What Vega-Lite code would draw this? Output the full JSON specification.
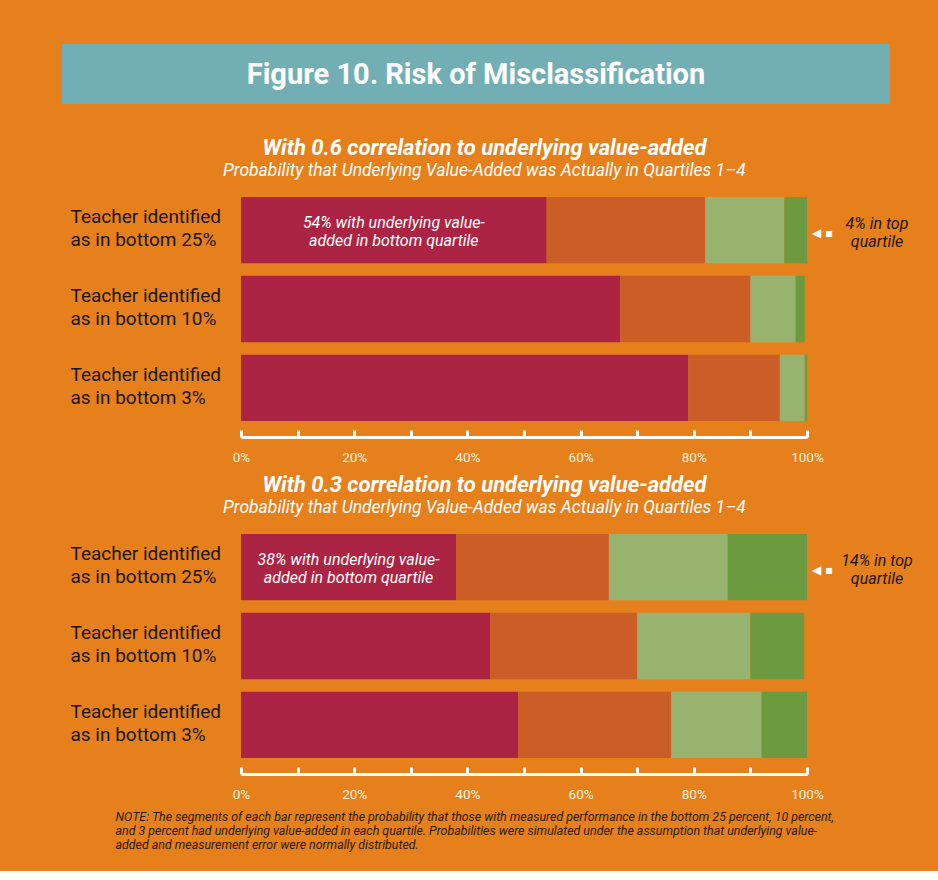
{
  "$schema": "https://vega.github.io/schema/vega-lite/v6.json",
  "background": "#E5801D",
  "padding": {"left": 62, "top": 44, "right": 33, "bottom": 20},
  "config": {"view": {"stroke": null}, "font": "Roboto"},
  "datasets": {
    "risk": [
      {"correlation": "0.6", "group": "Teacher identified as in bottom 25%", "quartile": "Quartile 1", "value": 54},
      {"correlation": "0.6", "group": "Teacher identified as in bottom 25%", "quartile": "Quartile 2", "value": 28},
      {"correlation": "0.6", "group": "Teacher identified as in bottom 25%", "quartile": "Quartile 3", "value": 14},
      {"correlation": "0.6", "group": "Teacher identified as in bottom 25%", "quartile": "Quartile 4", "value": 4},
      {"correlation": "0.6", "group": "Teacher identified as in bottom 10%", "quartile": "Quartile 1", "value": 67},
      {"correlation": "0.6", "group": "Teacher identified as in bottom 10%", "quartile": "Quartile 2", "value": 23},
      {"correlation": "0.6", "group": "Teacher identified as in bottom 10%", "quartile": "Quartile 3", "value": 8},
      {"correlation": "0.6", "group": "Teacher identified as in bottom 10%", "quartile": "Quartile 4", "value": 1.6},
      {"correlation": "0.6", "group": "Teacher identified as in bottom 3%", "quartile": "Quartile 1", "value": 79},
      {"correlation": "0.6", "group": "Teacher identified as in bottom 3%", "quartile": "Quartile 2", "value": 16.2},
      {"correlation": "0.6", "group": "Teacher identified as in bottom 3%", "quartile": "Quartile 3", "value": 4.4},
      {"correlation": "0.6", "group": "Teacher identified as in bottom 3%", "quartile": "Quartile 4", "value": 0.4},
      {"correlation": "0.3", "group": "Teacher identified as in bottom 25%", "quartile": "Quartile 1", "value": 38},
      {"correlation": "0.3", "group": "Teacher identified as in bottom 25%", "quartile": "Quartile 2", "value": 27},
      {"correlation": "0.3", "group": "Teacher identified as in bottom 25%", "quartile": "Quartile 3", "value": 21},
      {"correlation": "0.3", "group": "Teacher identified as in bottom 25%", "quartile": "Quartile 4", "value": 14},
      {"correlation": "0.3", "group": "Teacher identified as in bottom 10%", "quartile": "Quartile 1", "value": 44},
      {"correlation": "0.3", "group": "Teacher identified as in bottom 10%", "quartile": "Quartile 2", "value": 26},
      {"correlation": "0.3", "group": "Teacher identified as in bottom 10%", "quartile": "Quartile 3", "value": 20},
      {"correlation": "0.3", "group": "Teacher identified as in bottom 10%", "quartile": "Quartile 4", "value": 9.5},
      {"correlation": "0.3", "group": "Teacher identified as in bottom 3%", "quartile": "Quartile 1", "value": 49},
      {"correlation": "0.3", "group": "Teacher identified as in bottom 3%", "quartile": "Quartile 2", "value": 27},
      {"correlation": "0.3", "group": "Teacher identified as in bottom 3%", "quartile": "Quartile 3", "value": 16},
      {"correlation": "0.3", "group": "Teacher identified as in bottom 3%", "quartile": "Quartile 4", "value": 8}
    ]
  },
  "spacing": 32,
  "vconcat": [
    {
      "data": {"values": [{"title": "Figure 10. Risk of Misclassification"}]},
      "width": 828,
      "height": 60,
      "view": {"fill": "#72AFB5", "stroke": null},
      "mark": {"type": "text", "font": "Roboto", "fontSize": 29, "fontWeight": "bold", "color": "#FFFFFF", "align": "center", "baseline": "middle", "dy": 1},
      "encoding": {"text": {"field": "title"}}
    },
    {
      "spacing": 9,
      "vconcat": [
        {
          "width": 745,
          "height": 240,
          "title": {"text": "With 0.6 correlation to underlying value-added", "subtitle": "Probability that Underlying Value-Added was Actually in Quartiles 1–4", "anchor": "middle", "dx": 50, "font": "Roboto", "fontSize": 22, "fontStyle": "italic", "fontWeight": "bold", "color": "#FFFFFF", "subtitleFont": "Roboto", "subtitleFontSize": 17.5, "subtitleFontStyle": "italic", "subtitleColor": "#FFFFFF", "subtitlePadding": 2, "offset": 9},
          "data": {"name": "risk"},
          "transform": [{"filter": "datum.correlation == '0.6'"}],
          "encoding": {
            "y": {"field": "group", "type": "nominal", "sort": ["Teacher identified as in bottom 25%", "Teacher identified as in bottom 10%", "Teacher identified as in bottom 3%"], "scale": {"paddingInner": 0.16, "paddingOuter": 0.1},
              "axis": {"title": null, "domain": false, "ticks": false, "labelAlign": "left", "labelPadding": -8, "labelOffset": -13, "labelFontSize": 19, "labelColor": "#1C1410", "labelLineHeight": 23, "labelLimit": 300, "labelExpr": "['Teacher identified', replace(datum.label, 'Teacher identified ', '')]"}}
          },
          "layer": [
            {
              "mark": {"type": "bar"},
              "encoding": {
                "x": {"field": "value", "type": "quantitative", "stack": "zero", "scale": {"domain": [0, 100], "range": [179, 745]},
                  "axis": {"title": null, "values": [0, 10, 20, 30, 40, 50, 60, 70, 80, 90, 100], "labelExpr": "datum.value % 20 === 0 ? datum.value + '%' : ''", "domainColor": "#FFFFFF", "domainWidth": 3, "tickColor": "#FFFFFF", "tickWidth": 3, "tickSize": -7, "labelColor": "#FFF1DD", "labelFontSize": 13.5, "labelPadding": 20, "labelFlush": false, "offset": 8, "grid": false}},
                "color": {"field": "quartile", "type": "nominal", "scale": {"domain": ["Quartile 1", "Quartile 2", "Quartile 3", "Quartile 4"], "range": ["#AC2443", "#CB5D27", "#97B36F", "#6E9A3F"]}, "legend": null},
                "order": {"field": "quartile", "type": "ordinal", "sort": "ascending"}
              }
            },
            {
              "transform": [{"filter": "datum.quartile == 'Quartile 1' && indexof(datum.group, '25%') >= 0"}, {"calculate": "datum.value / 2", "as": "mid"}, {"calculate": "format(datum.value, 'd') + '% with underlying value-|added in bottom quartile'", "as": "label"}],
              "mark": {"type": "text", "color": "#FFFFFF", "fontStyle": "italic", "fontSize": 16, "lineHeight": 18, "lineBreak": "|", "align": "center", "baseline": "middle", "dy": -7},
              "encoding": {"x": {"field": "mid", "type": "quantitative"}, "text": {"field": "label"}}
            },
            {
              "transform": [{"filter": "datum.quartile == 'Quartile 4' && indexof(datum.group, '25%') >= 0"}, {"calculate": "format(datum.value, 'd') + '% in top|quartile'", "as": "label"}],
              "mark": {"type": "text", "color": "#1C1410", "fontStyle": "italic", "fontSize": 16, "lineHeight": 18, "lineBreak": "|", "align": "center", "baseline": "middle", "dx": 70, "dy": -6},
              "encoding": {"x": {"datum": 100, "type": "quantitative"}, "text": {"field": "label"}}
            },
            {
              "transform": [{"filter": "datum.quartile == 'Quartile 4' && indexof(datum.group, '25%') >= 0"}],
              "mark": {"type": "text", "text": "◀ ▪", "font": "DejaVu Sans", "color": "#FFFFFF", "fontSize": 12, "align": "left", "baseline": "middle", "dx": 5, "dy": 3},
              "encoding": {"x": {"datum": 100, "type": "quantitative"}}
            }
          ]
        },
        {
          "width": 745,
          "height": 240,
          "title": {"text": "With 0.3 correlation to underlying value-added", "subtitle": "Probability that Underlying Value-Added was Actually in Quartiles 1–4", "anchor": "middle", "dx": 50, "font": "Roboto", "fontSize": 22, "fontStyle": "italic", "fontWeight": "bold", "color": "#FFFFFF", "subtitleFont": "Roboto", "subtitleFontSize": 17.5, "subtitleFontStyle": "italic", "subtitleColor": "#FFFFFF", "subtitlePadding": 2, "offset": 9},
          "data": {"name": "risk"},
          "transform": [{"filter": "datum.correlation == '0.3'"}],
          "encoding": {
            "y": {"field": "group", "type": "nominal", "sort": ["Teacher identified as in bottom 25%", "Teacher identified as in bottom 10%", "Teacher identified as in bottom 3%"], "scale": {"paddingInner": 0.16, "paddingOuter": 0.1},
              "axis": {"title": null, "domain": false, "ticks": false, "labelAlign": "left", "labelPadding": -8, "labelOffset": -13, "labelFontSize": 19, "labelColor": "#1C1410", "labelLineHeight": 23, "labelLimit": 300, "labelExpr": "['Teacher identified', replace(datum.label, 'Teacher identified ', '')]"}}
          },
          "layer": [
            {
              "mark": {"type": "bar"},
              "encoding": {
                "x": {"field": "value", "type": "quantitative", "stack": "zero", "scale": {"domain": [0, 100], "range": [179, 745]},
                  "axis": {"title": ["NOTE: The segments of each bar represent the probability that those with measured performance in the bottom 25 percent, 10 percent,", "and 3 percent had underlying value-added in each quartile. Probabilities were simulated under the assumption that underlying value-", "added and measurement error were normally distributed."], "titleFont": "Roboto", "titleFontSize": 12.4, "titleFontStyle": "italic", "titleFontWeight": "normal", "titleColor": "#2A1A0C", "titleAlign": "left", "titleAnchor": "start", "titleX": 53, "titleY": 36, "titleBaseline": "top", "titleLineHeight": 14,
                    "values": [0, 10, 20, 30, 40, 50, 60, 70, 80, 90, 100], "labelExpr": "datum.value % 20 === 0 ? datum.value + '%' : ''", "domainColor": "#FFFFFF", "domainWidth": 3, "tickColor": "#FFFFFF", "tickWidth": 3, "tickSize": -7, "labelColor": "#FFF1DD", "labelFontSize": 13.5, "labelPadding": 20, "labelFlush": false, "offset": 8, "grid": false}},
                "color": {"field": "quartile", "type": "nominal", "scale": {"domain": ["Quartile 1", "Quartile 2", "Quartile 3", "Quartile 4"], "range": ["#AC2443", "#CB5D27", "#97B36F", "#6E9A3F"]}, "legend": null},
                "order": {"field": "quartile", "type": "ordinal", "sort": "ascending"}
              }
            },
            {
              "transform": [{"filter": "datum.quartile == 'Quartile 1' && indexof(datum.group, '25%') >= 0"}, {"calculate": "datum.value / 2", "as": "mid"}, {"calculate": "format(datum.value, 'd') + '% with underlying value-|added in bottom quartile'", "as": "label"}],
              "mark": {"type": "text", "color": "#FFFFFF", "fontStyle": "italic", "fontSize": 16, "lineHeight": 18, "lineBreak": "|", "align": "center", "baseline": "middle", "dy": -7},
              "encoding": {"x": {"field": "mid", "type": "quantitative"}, "text": {"field": "label"}}
            },
            {
              "transform": [{"filter": "datum.quartile == 'Quartile 4' && indexof(datum.group, '25%') >= 0"}, {"calculate": "format(datum.value, 'd') + '% in top|quartile'", "as": "label"}],
              "mark": {"type": "text", "color": "#1C1410", "fontStyle": "italic", "fontSize": 16, "lineHeight": 18, "lineBreak": "|", "align": "center", "baseline": "middle", "dx": 70, "dy": -6},
              "encoding": {"x": {"datum": 100, "type": "quantitative"}, "text": {"field": "label"}}
            },
            {
              "transform": [{"filter": "datum.quartile == 'Quartile 4' && indexof(datum.group, '25%') >= 0"}],
              "mark": {"type": "text", "text": "◀ ▪", "font": "DejaVu Sans", "color": "#FFFFFF", "fontSize": 12, "align": "left", "baseline": "middle", "dx": 5, "dy": 3},
              "encoding": {"x": {"datum": 100, "type": "quantitative"}}
            }
          ]
        }
      ]
    }
  ]
}
